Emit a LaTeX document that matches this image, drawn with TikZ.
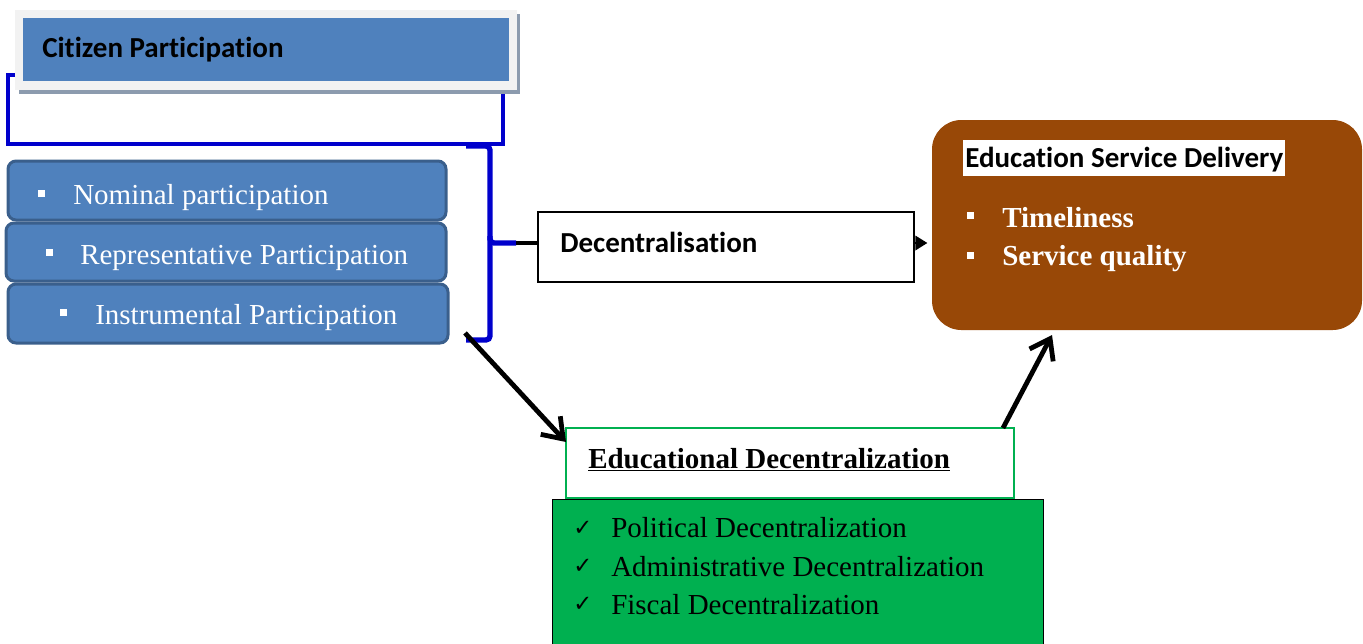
\documentclass[tikz,border=0pt]{standalone}
\usepackage{fontspec}
\setmainfont{Liberation Serif}
\newfontfamily\calfont[Ligatures=NoCommon]{Carlito}
\newfontfamily\symfont{DejaVu Sans}
\usetikzlibrary{arrows.meta,fit}

\definecolor{partfill}{HTML}{4F81BD}
\definecolor{partedge}{HTML}{3A5F8C}
\definecolor{framegray}{HTML}{F2F2F2}
\definecolor{shadowgray}{HTML}{8C9BAE}
\definecolor{outlineblue}{HTML}{0000CC}
\definecolor{bracketblue}{HTML}{0000CC}
\definecolor{brownfill}{HTML}{984807}
\definecolor{greenfill}{HTML}{00B050}

\tikzset{
  area/.style={inner sep=0pt, outer sep=0pt},
  partbox/.style={area, fill=partfill, draw=partedge, line width=2.25pt, rounded corners=6pt},
  sqbullet/.style={fill=white, inner sep=0pt, minimum size=5.25pt},
  serifbig/.style={inner sep=0pt, anchor=base west, font=\fontsize{21.75}{29}\selectfont},
  sansbig/.style={inner sep=0pt, anchor=base west, font=\calfont\bfseries\fontsize{21.75}{29}\selectfont},
  tick/.style={inner sep=0pt, anchor=base west, font=\symfont\bfseries\fontsize{17}{20}\selectfont},
  bracket/.style={draw=bracketblue, line width=4pt, rounded corners=3pt},
  flowarrow/.style={draw=black, line width=3.6pt, -{Straight Barb[length=14pt,width=20pt,line width=3.6pt]}},
}

\begin{document}
\begin{tikzpicture}[x=0.75pt,y=-0.75pt]
\useasboundingbox (0,0) rectangle (1363,643);

% --- Citizen participation header and its frame
\node[area, draw=outlineblue, line width=2.3pt, fit={(8,75)(503,144)}] (cpframe) {};
\node[area, fill=shadowgray, fit={(19,14)(520,94)}] (cpshadow) {};
\node[area, fill=framegray, fit={(15,10)(517,90)}] (cpouter) {};
\node[area, fill=partfill, fit={(23,18)(509,81)}] (cp) {};
\node[sansbig] (cptext) at (42,57) {Citizen Participation};

% --- participation types
\node[partbox, fit={(8,161)(446,220)}] (nom) {};
\node[partbox, fit={(6,223)(446,281)}] (rep) {};
\node[partbox, fit={(8,284)(448,343)}] (ins) {};
\node[sqbullet] (b1) at (41,193) {};
\node[sqbullet] (b2) at (49,252) {};
\node[sqbullet] (b3) at (63,312) {};
\node[serifbig, text=white] (t1) at (73,204) {Nominal participation};
\node[serifbig, text=white] (t2) at (80,264) {Representative Participation};
\node[serifbig, text=white] (t3) at (95,324) {Instrumental Participation};

% --- curly bracket grouping the three types
\coordinate (bracetop) at (466,146);
\coordinate (bracetip) at (516,243);
\coordinate (bracefoot) at (465,333);
\draw[bracket] (bracetop) -- (490,146) -- (490,243) -- (bracetip);
\draw[bracket] (490,236) -- (490,340) -- (466,340);

% --- decentralisation
\node[area, draw=black, fill=white, line width=1.6pt, fit={(538,212)(914,282)}] (dec) {};
\node[sansbig] (dectext) at (560,252) {Decentralisation};
\draw[line width=3.4pt] (bracetip) -- (bracetip -| dec.west);

% --- education service delivery
\node[area, fill=brownfill, rounded corners=22pt, fit={(932,120)(1362,330)}] (esd) {};
\node[sansbig, fill=white, inner xsep=1.5pt, text height=20.25pt, text depth=6.75pt] (esdtitle) at (963,167) {Education Service Delivery};
\node[sqbullet] (b4) at (970,215) {};
\node[sqbullet] (b5) at (970,255) {};
\node[serifbig, text=white, font=\bfseries\fontsize{21.75}{29}\selectfont] (t4) at (1002,227) {Timeliness};
\node[serifbig, text=white, font=\bfseries\fontsize{21.75}{29}\selectfont] (t5) at (1002,265) {Service quality};
\draw[line width=1pt, -{Triangle[length=9pt,width=11pt]}, shorten >=3.5pt] (dec.east |- bracetip) -- (esd.west |- bracetip);

% --- educational decentralization
\node[area, fill=greenfill, draw=black, line width=0.75pt, fit={(552,499)(1043,655)}] (forms) {};
\node[area, fill=white, draw=greenfill, line width=2.2pt, fit={(566,428)(1014,498)}] (edu) {};
\node[serifbig, font=\bfseries\fontsize{21.75}{29}\selectfont] (edutext) at (588,468) {\underline{Educational Decentralization}};
\node[tick] (c1) at (573,535) {✓};
\node[tick] (c2) at (573,573) {✓};
\node[tick] (c3) at (573,611) {✓};
\node[serifbig] (f1) at (611,537) {Political Decentralization};
\node[serifbig] (f2) at (611,576) {Administrative Decentralization};
\node[serifbig] (f3) at (611,614) {Fiscal Decentralization};

% --- flow arrows
\draw[flowarrow] (bracefoot) -- ([yshift=-10.5pt]edu.north west);
\draw[flowarrow] ([xshift=-8.25pt]edu.north east) -- ([xshift=90pt,yshift=-3.75pt]esd.south west);
\end{tikzpicture}
\end{document}
